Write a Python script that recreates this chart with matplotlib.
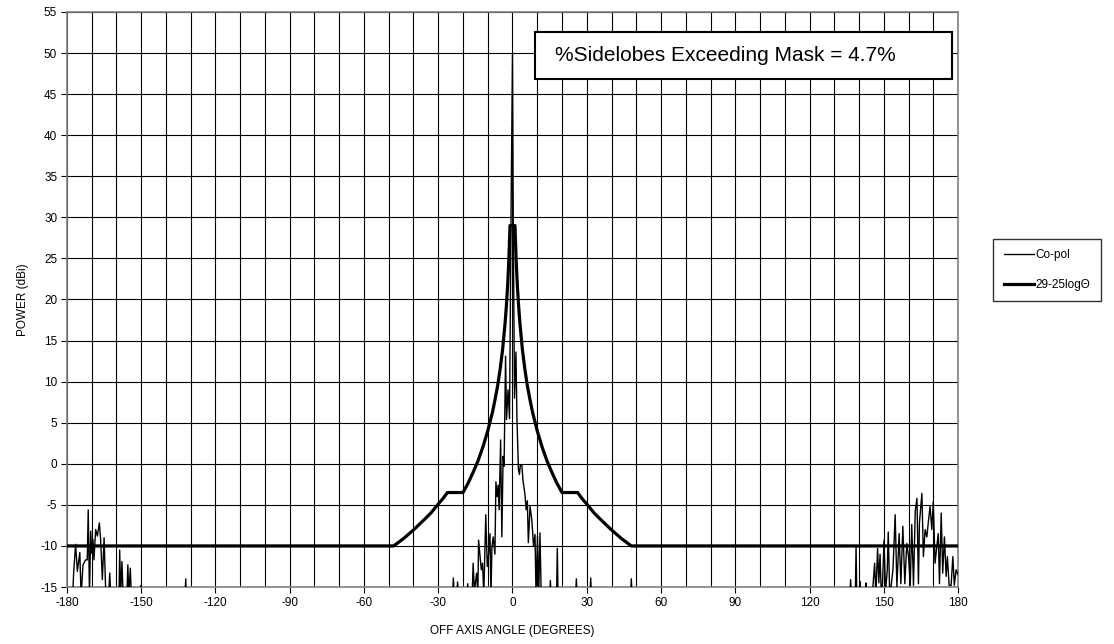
import numpy as np
import matplotlib
matplotlib.use('Agg')
import matplotlib.pyplot as plt
from matplotlib.patches import Rectangle

plt.rcParams['font.family'] = ['Liberation Sans', 'DejaVu Sans']
plt.rcParams['axes.unicode_minus'] = False

# co-pol pattern (values under -15 run off the bottom of the chart)
copol_deg = [-180, -177.7, -177.3, -176.5, -175.8, -174.8, -174.3, -173.5, -172.5, -171.8,
             -171.4, -170.9, -170.4, -170.0, -169.5, -169.1, -168.4, -167.7, -166.9, -166.4,
             -165.7, -165.0, -164.3, -163.5, -162.7, -162.2, -160, -159.0, -158.7, -158.3,
             -157.8, -157.3, -156, -155.4, -155.0, -154.4, -154.0, -152, -150.2, -150,
             -149.8, -133, -132, -131.5,
             -25, -24.2, -23.9, -23.5, -22.5, -22.2, -21.8, -18.5, -18.1, -17.7,
             -16.3, -15.9, -15.4, -14.5, -14.0, -13.7, -13.2, -12.6, -12.1, -11.6,
             -10.8, -10.2, -9.7, -9.1, -8.7, -8.3, -7.8, -7.1, -6.7, -6.2,
             -5.8, -5.4, -4.8, -4.3, -3.8, -3.4, -2.8, -2.4, -1.8, -1.2,
             -0.6, 0, 0.3, 0.8, 1.4, 1.8, 2.4, 2.8, 3.2, 3.8,
             4.2, 5.1, 5.5, 6.0, 6.4, 7.1, 7.8, 8.5, 9.1, 9.5,
             10.1, 10.6, 11.1, 11.6, 12.5, 15.0, 15.3, 15.6, 17.8, 18.1,
             18.4, 20, 25.5, 25.8, 26.1, 31.3, 31.6, 31.9, 47.7, 48.0,
             48.3, 60,
             136.3, 136.6, 136.9, 138.5, 138.8, 139.1, 140.2, 140.4, 140.7, 142.6,
             142.8, 143.1, 145.6, 146.3, 146.8, 147.5, 148.0, 148.5, 149.0, 149.5,
             150.1, 150.7, 151.4, 151.8, 152.4, 153.0, 153.7, 154.6, 155.3, 156.2,
             156.9, 157.7, 158.5, 159.3, 160.0, 160.7, 161.3, 162.0, 162.7, 163.4,
             164.0, 164.4, 165.4, 166.0, 166.7, 167.4, 168.1, 168.7, 169.4, 170.0,
             170.7, 171.4, 172.0, 172.5, 173.2, 173.8, 174.5, 175.2, 175.7, 176.4,
             177.2, 177.9, 178.5, 179.2, 180]
copol_dbi = [-20, -16, -13.3, -9.8, -13.1, -10.8, -16, -12.3, -11.7, -11.7,
             -5.6, -16, -8.2, -10.9, -9.2, -11.7, -8.0, -8.8, -7.2, -9.2,
             -14.1, -9.0, -16, -18, -13.3, -17, -20, -17, -10.5, -16,
             -11.9, -16, -18, -12.3, -16, -12.7, -16, -20, -16, -14.8,
             -16, -20, -14, -20,
             -20, -16, -13.9, -16, -16, -14.4, -16, -16, -14.6, -16,
             -16, -12.1, -15.5, -13.3, -16, -9.3, -10.9, -12.9, -12.1, -16,
             -6.2, -12.5, -11.2, -8.5, -16, -10.1, -8.9, -11, -2.2, -4.0,
             -2.6, -5.6, 2.9, -8.9, 0.9, -0.3, 13.1, 5.4, 9.0, 5.5,
             30, 50, 30, 8, 13.6, 5.5, -0.7, -1.3, -0.1, -0.2,
             -1.9, -3.9, -5.6, -4.5, -9.6, -5.2, -6.8, -10.0, -8.6, -16,
             -8.8, -16, -8.4, -16, -20, -16, -14.2, -16, -16, -10.3,
             -16, -20, -16, -14.0, -16, -16, -13.9, -16, -16, -14.0,
             -16, -20,
             -16, -14.1, -16, -16, -10.1, -16, -16, -14.3, -16, -16,
             -14.5, -16, -15, -12.1, -16, -10.3, -14.5, -11, -16, -14.5,
             -9.3, -15.5, -13, -8.3, -16, -14.8, -12.9, -6.2, -15, -8.5,
             -14.6, -7.6, -14.6, -9.7, -11.3, -14.8, -7.4, -14.8, -5.8, -4.2,
             -14.6, -7.2, -3.6, -11.3, -8.0, -8.9, -6.8, -5.2, -8.0, -4.6,
             -12.1, -10.1, -8.5, -14.6, -6.0, -13.3, -8.9, -13.7, -11.3, -14.8,
             -14.8, -11.3, -14.8, -12.9, -13.5]

# 29-25log(theta) mask, one side (mirrored below)
mask_deg = [0, 1, 1.5, 2, 2.5, 3, 4, 5, 6, 7, 8, 10, 12, 14, 16, 18, 20,
            26.3, 28, 30, 33, 36, 40, 44, 48, 180]
mask_dbi = [29, 29, 24.6, 21.5, 19.1, 17.1, 13.9, 11.5, 9.5, 7.9, 6.4, 4.0, 2.0, 0.3,
            -1.1, -2.4, -3.5, -3.5, -4.2, -4.9, -6.0, -6.9, -8.05, -9.1, -10.0, -10.0]

x_ticks = list(range(-180, 181, 30))
y_ticks = list(range(-15, 56, 5))

fig = plt.figure(figsize=(11.14, 6.44), dpi=100)
ax = fig.add_axes([0.0601, 0.0885, 0.7999, 0.8929])

md = np.array(mask_deg)
mv = np.array(mask_dbi)
mask_x = np.concatenate([-md[::-1], md[1:]])
mask_y = np.concatenate([mv[::-1], mv[1:]])

ax.plot(copol_deg, copol_dbi, color='black', lw=1.0, label='Co-pol', zorder=3)
ax.plot(mask_x, mask_y, color='black', lw=2.3, label='29-25log\u0398', zorder=4)

ax.set_xlim(-180, 180)
ax.set_ylim(-15, 55)
ax.set_xticks(x_ticks)
ax.set_xticks(range(-180, 181, 10), minor=True)
ax.set_yticks(y_ticks)
ax.grid(True, which='both', color='black', lw=0.8)
ax.set_axisbelow(True)
ax.tick_params(which='major', direction='out', length=4, width=0.8, labelsize=8.5, pad=3)
ax.tick_params(which='minor', length=0)
for s in ax.spines.values():
    s.set_color('#808080')
    s.set_linewidth(1.2)

ax.set_xlabel('OFF AXIS ANGLE (DEGREES)', fontsize=8.5, labelpad=12)
ax.set_ylabel('POWER (dBi)', fontsize=8.5, labelpad=8)

# annotation box
ax.add_patch(Rectangle((9.1, 46.8), 168.5, 5.8, facecolor='white', edgecolor='black',
                       lw=1.5, zorder=5))
ax.text(17.2, 49.7, '%Sidelobes Exceeding Mask = 4.7%', fontsize=15, va='center',
        ha='left', zorder=6)

fig.legend(loc='center', bbox_to_anchor=(1047 / 1114, 1 - 270 / 644), fontsize=8.5,
           frameon=True, fancybox=False, edgecolor='black', handlelength=2.6,
           borderpad=0.9, labelspacing=1.5, handletextpad=0.1, borderaxespad=0)

plt.savefig('out.png', dpi=100)
